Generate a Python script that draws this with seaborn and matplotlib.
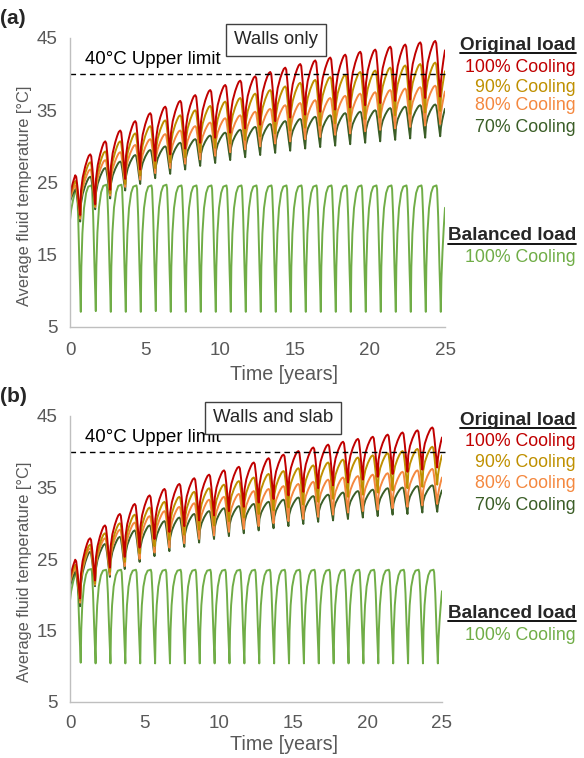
import numpy as np
import pandas as pd
import matplotlib
matplotlib.use("Agg")
import matplotlib.pyplot as plt
import seaborn as sns
from matplotlib.lines import Line2D

sns.set_theme(style="white")
plt.rcParams["font.family"] = ["Liberation Sans", "DejaVu Sans"]

series_names = ["Orig 100%", "Orig 90%", "Orig 80%", "Orig 70%", "Balanced 100%"]
series_colors = ["#C00000", "#BF9000", "#F4883F", "#3B5E27", "#70AD47"]
legend_labels = ["100% Cooling", "90% Cooling", "80% Cooling", "70% Cooling", "100% Cooling"]

# ---------------- Panel (a): Walls only ----------------
a_start = [23.0, 22.8, 22.6, 22.3, 19.8]
a_end = [43.3, 40.4, 37.6, 35.2, 21.5]
a_peak_100 = [26.0, 28.9, 30.7, 32.2, 33.5, 34.6, 35.5, 36.3, 37.1, 37.8, 38.5, 39.1, 39.7,
              40.3, 40.9, 41.4, 41.9, 42.3, 42.7, 43.1, 43.4, 43.8, 44.1, 44.4, 44.6]
a_trough_100 = [20.5, 22.0, 24.0, 25.5, 26.8, 28.0, 28.9, 29.7, 30.5, 31.2, 31.9, 32.5, 33.0,
                33.5, 34.0, 34.4, 34.8, 35.1, 35.4, 35.7, 36.0, 36.3, 36.5, 36.7, 36.9]
a_peak_90 = [25.2, 27.8, 29.3, 30.7, 31.8, 32.8, 33.6, 34.3, 35.0, 35.6, 36.2, 36.7, 37.3,
             37.8, 38.3, 38.8, 39.2, 39.6, 39.9, 40.3, 40.5, 40.9, 41.2, 41.4, 41.6]
a_trough_90 = [20.3, 21.8, 23.5, 24.8, 26.0, 27.0, 27.8, 28.5, 29.2, 29.8, 30.4, 30.9, 31.4,
               31.8, 32.2, 32.6, 32.9, 33.2, 33.5, 33.8, 34.0, 34.3, 34.5, 34.7, 34.9]
a_peak_80 = [24.6, 26.8, 28.1, 29.2, 30.2, 31.0, 31.7, 32.2, 32.8, 33.3, 33.9, 34.3, 34.8,
             35.2, 35.7, 36.0, 36.4, 36.7, 37.0, 37.3, 37.5, 37.8, 38.0, 38.2, 38.4]
a_trough_80 = [20.0, 21.6, 23.2, 24.4, 25.4, 26.3, 27.0, 27.6, 28.2, 28.7, 29.2, 29.6, 30.0,
               30.4, 30.7, 31.0, 31.3, 31.6, 31.8, 32.1, 32.3, 32.5, 32.7, 32.9, 33.1]
a_peak_70 = [24.0, 25.8, 27.0, 27.9, 28.8, 29.5, 30.0, 30.5, 31.0, 31.5, 31.9, 32.3, 32.7,
             33.1, 33.5, 33.8, 34.1, 34.3, 34.6, 34.8, 35.0, 35.3, 35.5, 35.7, 35.8]
a_trough_70 = [19.6, 21.3, 22.8, 23.9, 24.8, 25.6, 26.2, 26.8, 27.3, 27.7, 28.1, 28.5, 28.8,
               29.1, 29.4, 29.7, 29.9, 30.1, 30.3, 30.5, 30.7, 30.9, 31.1, 31.2, 31.4]
a_peak_bal = [24.5, 24.6, 24.7, 24.7, 24.6, 24.6, 24.7, 24.6, 24.6, 24.6, 24.6, 24.6, 24.6,
              24.6, 24.6, 24.6, 24.6, 24.6, 24.6, 24.6, 24.6, 24.6, 24.6, 24.6, 24.6]
a_trough_bal = [7.1, 7.2, 7.1, 7.1, 7.1, 7.2, 7.1, 7.1, 7.1, 7.1, 7.1, 7.1, 7.1,
                7.1, 7.1, 7.1, 7.1, 7.1, 7.1, 7.1, 7.1, 7.1, 7.1, 7.1, 7.1]

# ---------------- Panel (b): Walls and slab ----------------
b_start = [22.1, 21.9, 21.6, 21.1, 19.2]
b_end = [42.0, 39.5, 36.4, 34.6, 20.5]
b_peak_100 = [24.9, 27.9, 29.7, 31.3, 32.7, 33.9, 34.8, 35.5, 36.3, 36.8, 37.4, 37.9, 38.5,
              39.1, 39.6, 40.1, 40.6, 41.0, 41.4, 41.8, 42.1, 42.4, 42.7, 43.0, 43.4]
b_trough_100 = [19.5, 22.0, 23.8, 25.3, 26.6, 27.8, 28.8, 29.6, 30.4, 31.1, 31.7, 32.3, 32.9,
                33.4, 33.9, 34.4, 34.9, 35.3, 35.7, 36.1, 36.5, 36.9, 37.2, 37.5, 37.8]
b_peak_90 = [24.2, 27.0, 28.6, 30.0, 31.2, 32.2, 33.0, 33.7, 34.4, 34.9, 35.4, 35.9, 36.4,
             36.9, 37.3, 37.7, 38.1, 38.5, 38.9, 39.2, 39.5, 39.8, 40.1, 40.4, 40.7]
b_trough_90 = [19.2, 21.6, 23.2, 24.6, 25.8, 26.8, 27.7, 28.4, 29.1, 29.7, 30.3, 30.8, 31.3,
               31.8, 32.2, 32.6, 33.0, 33.4, 33.7, 34.0, 34.3, 34.6, 34.9, 35.1, 35.4]
b_peak_80 = [23.8, 26.5, 27.9, 29.1, 30.1, 31.0, 31.7, 32.3, 32.8, 33.3, 33.7, 34.1, 34.5,
             34.8, 35.2, 35.5, 35.8, 36.1, 36.4, 36.6, 36.8, 37.0, 37.2, 37.4, 37.6]
b_trough_80 = [18.9, 21.4, 22.8, 24.0, 25.0, 25.9, 26.6, 27.2, 27.8, 28.3, 28.8, 29.2, 29.6,
               30.0, 30.3, 30.6, 30.9, 31.2, 31.5, 31.7, 31.9, 32.1, 32.3, 32.5, 32.7]
b_peak_70 = [23.2, 26.0, 27.1, 28.1, 29.0, 29.7, 30.3, 30.8, 31.3, 31.7, 32.1, 32.4, 32.7,
             33.0, 33.3, 33.6, 33.8, 34.0, 34.3, 34.5, 34.7, 34.9, 35.0, 35.2, 35.3]
b_trough_70 = [18.4, 21.2, 22.5, 23.6, 24.6, 25.4, 26.1, 26.7, 27.3, 27.8, 28.2, 28.6, 29.0,
               29.3, 29.6, 29.9, 30.2, 30.4, 30.6, 30.8, 31.0, 31.2, 31.3, 31.5, 31.6]
b_peak_bal = [23.5, 23.6, 23.5, 23.5, 23.5, 23.5, 23.5, 23.5, 23.5, 23.5, 23.5, 23.5, 23.5,
              23.5, 23.5, 23.5, 23.5, 23.5, 23.5, 23.5, 23.5, 23.5, 23.5, 23.5, 23.5]
b_trough_bal = [10.5, 10.4, 10.4, 10.4, 10.4, 10.4, 10.4, 10.4, 10.4, 10.4, 10.4, 10.4, 10.4,
                10.4, 10.4, 10.4, 10.4, 10.4, 10.4, 10.4, 10.4, 10.4, 10.4, 10.4, 10.4]

y_ticks = [5, 15, 25, 35, 45]
x_ticks = [0, 5, 10, 15, 20, 25]
upper_limit = 40

# within-year shape (time fraction, value fraction)
orig_rise = [(0.0, 0.0), (0.08, 0.4), (0.25, 0.62), (0.5, 0.8), (0.7, 0.91), (0.85, 0.975), (1.0, 1.0)]
orig_fall = [(0.0, 0.0), (0.2, 0.04), (0.45, 0.3), (0.75, 0.7), (1.0, 1.0)]
bal_rise = [(0.0, 0.0), (0.05, 0.35), (0.15, 0.62), (0.3, 0.82), (0.5, 0.94), (0.7, 0.99), (1.0, 1.0)]
bal_fall = [(0.0, 0.0), (0.15, 0.03), (0.4, 0.25), (0.7, 0.65), (1.0, 1.0)]


def build(start, peaks, troughs, end, peak_off, trough_off, rise, fall, t_end):
    ts, vs = [0.0], [start]
    prev_t, prev_v = 0.0, start
    for k in range(len(peaks)):
        tp = k + peak_off
        t0 = (k - 1 + trough_off) if k > 0 else -(1 - trough_off)
        for f, g in rise[1:]:
            t = t0 + f * (tp - t0)
            if t <= prev_t:
                continue
            if k > 0:
                v = prev_v + (peaks[k] - prev_v) * g
            else:
                v = start + (peaks[k] - start) * (t / tp) ** 0.7
            ts.append(t)
            vs.append(v)
        tt = k + trough_off
        for f, g in fall[1:]:
            ts.append(tp + f * (tt - tp))
            vs.append(peaks[k] - (peaks[k] - troughs[k]) * g)
        prev_t, prev_v = tt, troughs[k]
    for f in [0.15, 0.4, 0.7, 1.0]:
        ts.append(prev_t + f * (t_end - prev_t))
        vs.append(prev_v + (end - prev_v) * (f ** 0.6))
    return ts, vs


def panel_frame(start, end, peaks_list, troughs_list, t_end):
    rows = []
    for i, name in enumerate(series_names):
        if i < 4:
            ts, vs = build(start[i], peaks_list[i], troughs_list[i], end[i], 0.35, 0.68,
                           orig_rise, orig_fall, t_end)
        else:
            ts, vs = build(start[i], peaks_list[i], troughs_list[i], end[i], 0.43, 0.72,
                           bal_rise, bal_fall, t_end)
        rows.append(pd.DataFrame({"t": ts, "v": vs, "series": name}))
    return pd.concat(rows, ignore_index=True)


df_a = panel_frame(a_start, a_end,
                   [a_peak_100, a_peak_90, a_peak_80, a_peak_70, a_peak_bal],
                   [a_trough_100, a_trough_90, a_trough_80, a_trough_70, a_trough_bal], 25.0)
df_b = panel_frame(b_start, b_end,
                   [b_peak_100, b_peak_90, b_peak_80, b_peak_70, b_peak_bal],
                   [b_trough_100, b_trough_90, b_trough_80, b_trough_70, b_trough_bal], 25.0)

W, H = 584, 758
fig = plt.figure(figsize=(W / 100, H / 100), dpi=100)


def fx(px):
    return px / W


def fy(py):
    return 1 - py / H


gray = "#595959"
FS_TICK = 13.5
FS_XLAB = 14.2
FS_YLAB = 11.8
FS_LEG = 12.8


def draw_panel(df, box, title, title_xy, tag, tag_y, leg_ys, limit_text_y, xlab_y, ylab_yc, xpad):
    l, t, r, b = box
    ax = fig.add_axes([fx(l), fy(b), fx(r) - fx(l), fy(t) - fy(b)])
    sns.lineplot(data=df, x="t", y="v", hue="series", palette=dict(zip(series_names, series_colors)),
                 hue_order=series_names[::-1], estimator=None, sort=False, units="series",
                 linewidth=1.4, legend=False, ax=ax)
    ax.set_xlim(0, 25)
    ax.set_ylim(5, 45)
    ax.set_xticks(x_ticks)
    ax.set_yticks(y_ticks)
    ax.tick_params(axis="x", length=0, labelsize=FS_TICK, colors=gray, pad=xpad)
    ax.tick_params(axis="y", length=0, labelsize=FS_TICK, colors=gray, pad=9)
    for s in ["top", "right"]:
        ax.spines[s].set_visible(False)
    for s in ["left", "bottom"]:
        ax.spines[s].set_color("#BFBFBF")
        ax.spines[s].set_linewidth(1.0)
    ax.set_xlabel("Time [years]", fontsize=FS_XLAB, color=gray, va="center")
    ax.set_ylabel("Average fluid temperature [°C]", fontsize=FS_YLAB, color=gray, va="center")
    ax.xaxis.set_label_coords((284 - l) / (r - l), -(xlab_y - b) / (b - t))
    ax.yaxis.set_label_coords(-(l - 25) / (r - l), (b - ylab_yc) / (b - t))
    ax.axhline(upper_limit, color="black", linestyle=(0, (4, 3)), linewidth=1.0, xmax=1.01, clip_on=False)
    ax.text(1.0, limit_text_y, "40°C Upper limit", fontsize=FS_LEG + 0.6, color="black", ha="left", va="bottom")
    fig.text(fx(title_xy[0]), fy(title_xy[1]), title, fontsize=FS_LEG + 0.6, ha="center", va="center",
             bbox=dict(boxstyle="square,pad=0.42", facecolor="white", edgecolor="#404040", linewidth=1.0))
    fig.text(fx(0), fy(tag_y), tag, fontsize=15, fontweight="bold", ha="left", va="center")
    renderer = fig.canvas.get_renderer()
    for yy, txt in [(leg_ys[0], "Original load"), (leg_ys[5], "Balanced load")]:
        tx = fig.text(fx(576), fy(yy), txt, fontsize=FS_LEG + 0.8, fontweight="bold", ha="right", va="center")
        bb = tx.get_window_extent(renderer=renderer)
        fig.add_artist(Line2D([bb.x0 / W, bb.x1 / W], [(bb.y0 + 1) / H, (bb.y0 + 1) / H],
                              color="black", linewidth=1.3))
    for i in range(5):
        fig.text(fx(576), fy(leg_ys[i + 1 if i < 4 else 6]), legend_labels[i], fontsize=FS_LEG,
                 color=series_colors[i], ha="right", va="center")
    return ax


draw_panel(df_a, (70, 38, 445, 327), "Walls only", (276, 40), "(a)", 18,
           [45, 67, 87, 106, 127, 236, 258], 40.8, 375, 196, 11)
draw_panel(df_b, (70, 416, 442, 702), "Walls and slab", (273, 418), "(b)", 396,
           [420, 441, 462, 484, 505, 613, 635], 40.8, 745, 572, 9)

fig.savefig("out.png", dpi=100)
